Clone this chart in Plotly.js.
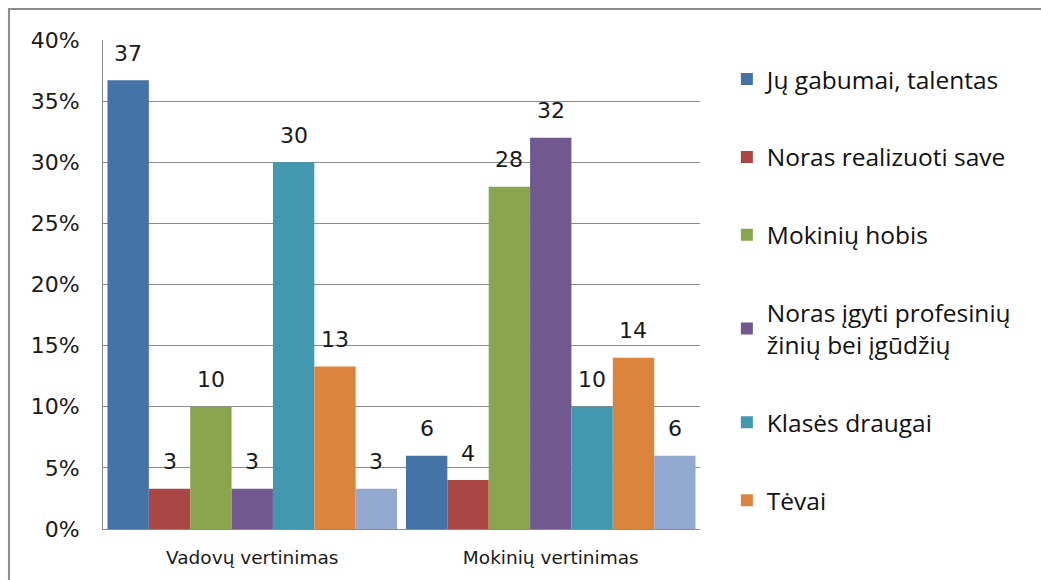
<!DOCTYPE html>
<html>
<head>
<meta charset="utf-8">
<script src="https://cdn.plot.ly/plotly-3.0.1.min.js"></script>
<style>html,body{margin:0;padding:0;background:#fff;}</style>
</head>
<body>
<div id="chart" style="width:1041px;height:580px;"></div>
<script>
// Categories (x axis)
const categories = ["Vadovų vertinimas", "Mokinių vertinimas"];

// Series names (legend)
const seriesNames = [
  "Jų gabumai, talentas",
  "Noras realizuoti save",
  "Mokinių hobis",
  "Noras įgyti profesinių<br>žinių bei įgūdžių",
  "Klasės draugai",
  "Tėvai",
  "Kita"
];

// Series values in percent, one array per series: [Vadovų, Mokinių]
const gabumai      = [36.7, 6];
const realizuoti   = [3.3, 4];
const hobis        = [10, 28];
const profesiniu   = [3.3, 32];
const draugai      = [30, 10];
const tevai        = [13.3, 14];
const kita         = [3.3, 6];

// Data label texts as printed on the chart
const labGabumai    = ["37", "6"];
const labRealizuoti = ["3", "4"];
const labHobis      = ["10", "28"];
const labProfesiniu = ["3", "32"];
const labDraugai    = ["30", "10"];
const labTevai      = ["13", "14"];
const labKita       = ["3", "6"];

// Y axis tick values
const yTicks = [0, 5, 10, 15, 20, 25, 30, 35, 40];
const yTickText = ["0%", "5%", "10%", "15%", "20%", "25%", "30%", "35%", "40%"];

const seriesValues = [gabumai, realizuoti, hobis, profesiniu, draugai, tevai, kita];
const seriesLabels = [labGabumai, labRealizuoti, labHobis, labProfesiniu, labDraugai, labTevai, labKita];
const colors = ["#4572A7", "#AA4643", "#89A54E", "#71588F", "#4198AF", "#DB843D", "#93A9CF"];

const bargap = 0.03;
const nSeries = seriesValues.length;

const traces = seriesValues.map((vals, i) => ({
  type: "bar",
  x: categories,
  y: vals,
  name: seriesNames[i],
  legendgroup: "g" + i,
  showlegend: i < 6,
  marker: {color: colors[i], line: {width: 0}},
  hoverinfo: "none"
}));

// data labels placed above each bar, positioned from the category index and series index
const barW = (1 - bargap) / nSeries;
const annotations = [];
seriesValues.forEach((vals, i) => {
  vals.forEach((v, c) => {
    annotations.push({
      xref: "x", yref: "y",
      x: c + (i - (nSeries - 1) / 2) * barW,
      y: v,
      text: seriesLabels[i][c],
      showarrow: false,
      yanchor: "middle",
      yshift: 27,
      font: {family: "DejaVu Sans", size: 22, color: "#1a1a1a"}
    });
  });
});

const layout = {
  width: 1041,
  height: 580,
  margin: {l: 103, r: 341, t: 40, b: 51},
  paper_bgcolor: "#ffffff",
  plot_bgcolor: "#ffffff",
  barmode: "group",
  bargap: bargap,
  bargroupgap: 0,
  showlegend: true,
  legend: {
    x: 1.045, xanchor: "left",
    y: 0.966, yanchor: "top",
    traceorder: "grouped",
    tracegroupgap: 43,
    font: {family: "Open Sans", size: 24.5, color: "#111111"},
    bgcolor: "rgba(0,0,0,0)"
  },
  xaxis: {
    type: "category",
    showline: true,
    linecolor: "#8c8c8c",
    linewidth: 1,
    showgrid: false,
    ticks: "",
    ticklabelstandoff: 12,
    tickfont: {family: "DejaVu Sans", size: 18.5, color: "#1a1a1a"}
  },
  yaxis: {
    range: [0, 40],
    tickvals: yTicks,
    ticktext: yTickText,
    showline: true,
    linecolor: "#8c8c8c",
    linewidth: 1,
    showgrid: true,
    gridcolor: "#8c8c8c",
    gridwidth: 1,
    zeroline: false,
    ticks: "",
    ticklabelstandoff: 18,
    tickfont: {family: "DejaVu Sans", size: 22, color: "#1a1a1a"}
  },
  annotations: annotations,
  shapes: [{
    type: "rect", xref: "paper", yref: "paper",
    x0: -0.1575, x1: 1.6, y0: -0.2, y1: 1.0634,
    line: {color: "#8c8c8c", width: 2},
    fillcolor: "rgba(0,0,0,0)",
    layer: "below"
  }]
};

Plotly.newPlot("chart", traces, layout, {displayModeBar: false, staticPlot: true});
</script>
</body>
</html>
